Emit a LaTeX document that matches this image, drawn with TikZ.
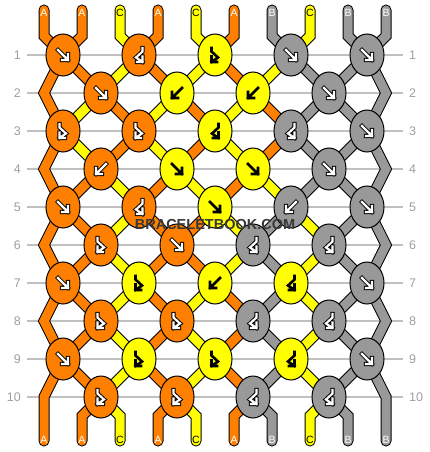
\documentclass[tikz,border=0pt]{standalone}
\usepackage{fontspec}
\setmainfont{Liberation Sans}
\usetikzlibrary{shapes.geometric}
\definecolor{cA}{HTML}{FF8000}
\definecolor{cB}{HTML}{999999}
\definecolor{cC}{HTML}{FFFF00}
\definecolor{rulegray}{HTML}{C0C0C0}
\definecolor{numgray}{HTML}{A0A0A0}
\definecolor{wmgray}{HTML}{383838}
\pgfdeclarelayer{bg}
\pgfdeclarelayer{lines}
\pgfdeclarelayer{strings}
\pgfsetlayers{bg,lines,strings,main}
\tikzset{
 knot/.style={ellipse, draw=black, line width=1, minimum width=34, minimum height=42, inner sep=0},
 strpass0/.style={draw=black, line width=11, line cap=round, line join=miter},
 strpass1/.style={draw=c#1, line width=9, line cap=round, line join=miter},
 rowline/.style={draw=rulegray, line width=1.3, shorten <=6, shorten >=6},
 rownum/.style={text=numgray, font=\fontsize{12.5}{14}\selectfont, inner sep=0},
 strlabel/.style={font=\fontsize{10.5}{12}\selectfont, inner sep=0},
 wm/.style={font=\bfseries\fontsize{14.5}{16}\selectfont, inner sep=0},
 arrline/.style={line cap=rect, line join=miter},
 pics/arrF/.style 2 args={code={\draw[arrline, line width=#1, draw=#2] (-5,-5) -- (5,5) (5,-1) -- (5,5) -- (-1,5);}},
 pics/arrB/.style 2 args={code={\draw[arrline, line width=#1, draw=#2] (5,-5) -- (-5,5) (-5,-1) -- (-5,5) -- (1,5);}},
 pics/arrFB/.style 2 args={code={\draw[arrline, line width=#1, draw=#2] (-3.5,-7) -- (-3.5,-3.5) -- (3,2.5) -- (-3.5,7) (-3.5,1.5) -- (-3.5,7) -- (2,7);}},
 pics/arrBF/.style 2 args={code={\draw[arrline, line width=#1, draw=#2] (3.5,-7) -- (3.5,-3.5) -- (-3,2.5) -- (3.5,7) (3.5,1.5) -- (3.5,7) -- (-2,7);}},
}
\def\knotrows{{A/F,A/BF,C/FB,B/F,B/F},{A/F,C/B,C/B,B/F},{A/FB,A/FB,C/BF,B/BF,B/F},{A/B,C/F,C/F,B/F},{A/F,A/BF,C/F,B/B,B/F},{A/FB,A/F,B/BF,B/BF},{A/F,C/FB,C/B,C/BF,B/F},{A/FB,A/FB,B/BF,B/BF},{A/F,C/FB,C/FB,C/BF,B/F},{A/FB,A/FB,B/BF,B/BF}}
\def\states{{A,A,C,A,C,A,B,C,B,B},{A,A,C,A,C,A,C,B,B,B},{A,C,A,C,A,C,A,B,B,B},{A,C,A,C,A,C,A,B,B,B},{A,A,C,A,C,A,C,B,B,B},{A,A,C,A,A,C,B,C,B,B},{A,A,C,A,A,C,B,C,B,B},{A,A,C,A,C,A,B,C,B,B},{A,A,C,A,C,A,B,C,B,B},{A,A,C,A,C,A,B,C,B,B},{A,A,C,A,C,A,B,C,B,B}}
\newcommand\drawstrings[1]{%
 \foreach \S [count=\rr from 0] in \states {
  \foreach \c [count=\i] in \S {
   \pgfmathtruncatemacro\rn{\rr+1}
   \ifnum\i>1 \ifnum\i<10
     \ifnum\rr=0
       \draw[strpass#1=\c] (t-\i) -- (u-\i) -- (p-\i-1);
     \else\ifnum\rr=10
       \draw[strpass#1=\c] (p-\i-10) -- (v-\i) -- (w-\i);
     \else
       \draw[strpass#1=\c] (p-\i-\rr) -- (p-\i-\rn);
     \fi\fi
   \fi\fi
  }
 }
 \draw[strpass#1=A] (t-1) -- (u-1) -- (p-1-1) -- (p-1-2) -- (p-1-3) -- (p-1-4) -- (p-1-5) -- (p-1-6) -- (p-1-7) -- (p-1-8) -- (p-1-9) -- (p-1-10) -- (w-1);
 \draw[strpass#1=B] (t-10) -- (u-10) -- (p-10-1) -- (p-10-2) -- (p-10-3) -- (p-10-4) -- (p-10-5) -- (p-10-6) -- (p-10-7) -- (p-10-8) -- (p-10-9) -- (p-10-10) -- (w-10);
}
\begin{document}
\begin{tikzpicture}[x=1pt, y=-1pt]
\begin{pgfonlayer}{bg}
\fill[white] (0,0) rectangle (430,452);
\end{pgfonlayer}
\useasboundingbox (0,0) rectangle (430,452);
% string end points
\foreach \i in {1,...,10} {
  \pgfmathsetmacro\x{44+38*(\i-1)}
  \coordinate (t-\i) at (\x,10);
  \coordinate (u-\i) at (\x,36);
  \coordinate (v-\i) at (\x,416);
  \coordinate (w-\i) at (\x,441);
}
% knots
\foreach \K [count=\r] in \knotrows {
  \pgfmathsetmacro\y{55+38*(\r-1)}
  \foreach \col/\typ [count=\j] in \K {
    \ifodd\r\relax
      \pgfmathsetmacro\x{63+76*(\j-1)}
      \pgfmathtruncatemacro\ia{2*\j-1}
    \else
      \pgfmathsetmacro\x{101+76*(\j-1)}
      \pgfmathtruncatemacro\ia{2*\j}
    \fi
    \pgfmathtruncatemacro\ib{\ia+1}
    \node[knot, fill=c\col] (k-\r-\j) at (\x,\y) {};
    \coordinate (p-\ia-\r) at (k-\r-\j.center);
    \coordinate (p-\ib-\r) at (k-\r-\j.center);
    \if\col C
      \edef\tmp{\noexpand\pic at (k-\r-\j) {arr\typ={2.6}{black}};}\tmp
    \else
      \edef\tmp{\noexpand\pic at (k-\r-\j) {arr\typ={4.2}{black}};}\tmp
      \edef\tmp{\noexpand\pic at (k-\r-\j) {arr\typ={2.2}{white}};}\tmp
    \fi
  }
  \ifodd\r\relax\else
    \coordinate (p-1-\r) at (44,\y);
    \coordinate (p-10-\r) at (386,\y);
  \fi
  % row numbers and rule
  \node[rownum, anchor=east] (nl-\r) at (21,\y) {\r};
  \node[rownum, anchor=west] (nr-\r) at (409,\y) {\r};
  \begin{pgfonlayer}{lines}
    \draw[rowline] (nl-\r.east) -- (nr-\r.west);
  \end{pgfonlayer}
}
% strings
\begin{pgfonlayer}{strings}
\drawstrings{0}
\drawstrings{1}
\end{pgfonlayer}
% string labels
\foreach \c [count=\i] in {A,A,C,A,C,A,B,C,B,B} {
  \pgfmathsetmacro\x{44+38*(\i-1)}
  \if\c C\def\tc{black}\else\def\tc{white}\fi
  \node[strlabel, text=\tc] (top-\i) at (\x,13) {\c};
  \node[strlabel, text=\tc] (bot-\i) at (\x,440) {\c};
}
% watermark
\node[wm, text=wmgray] (wm) at (215,225) {BRACELETBOOK.COM};
\end{tikzpicture}
\end{document}
